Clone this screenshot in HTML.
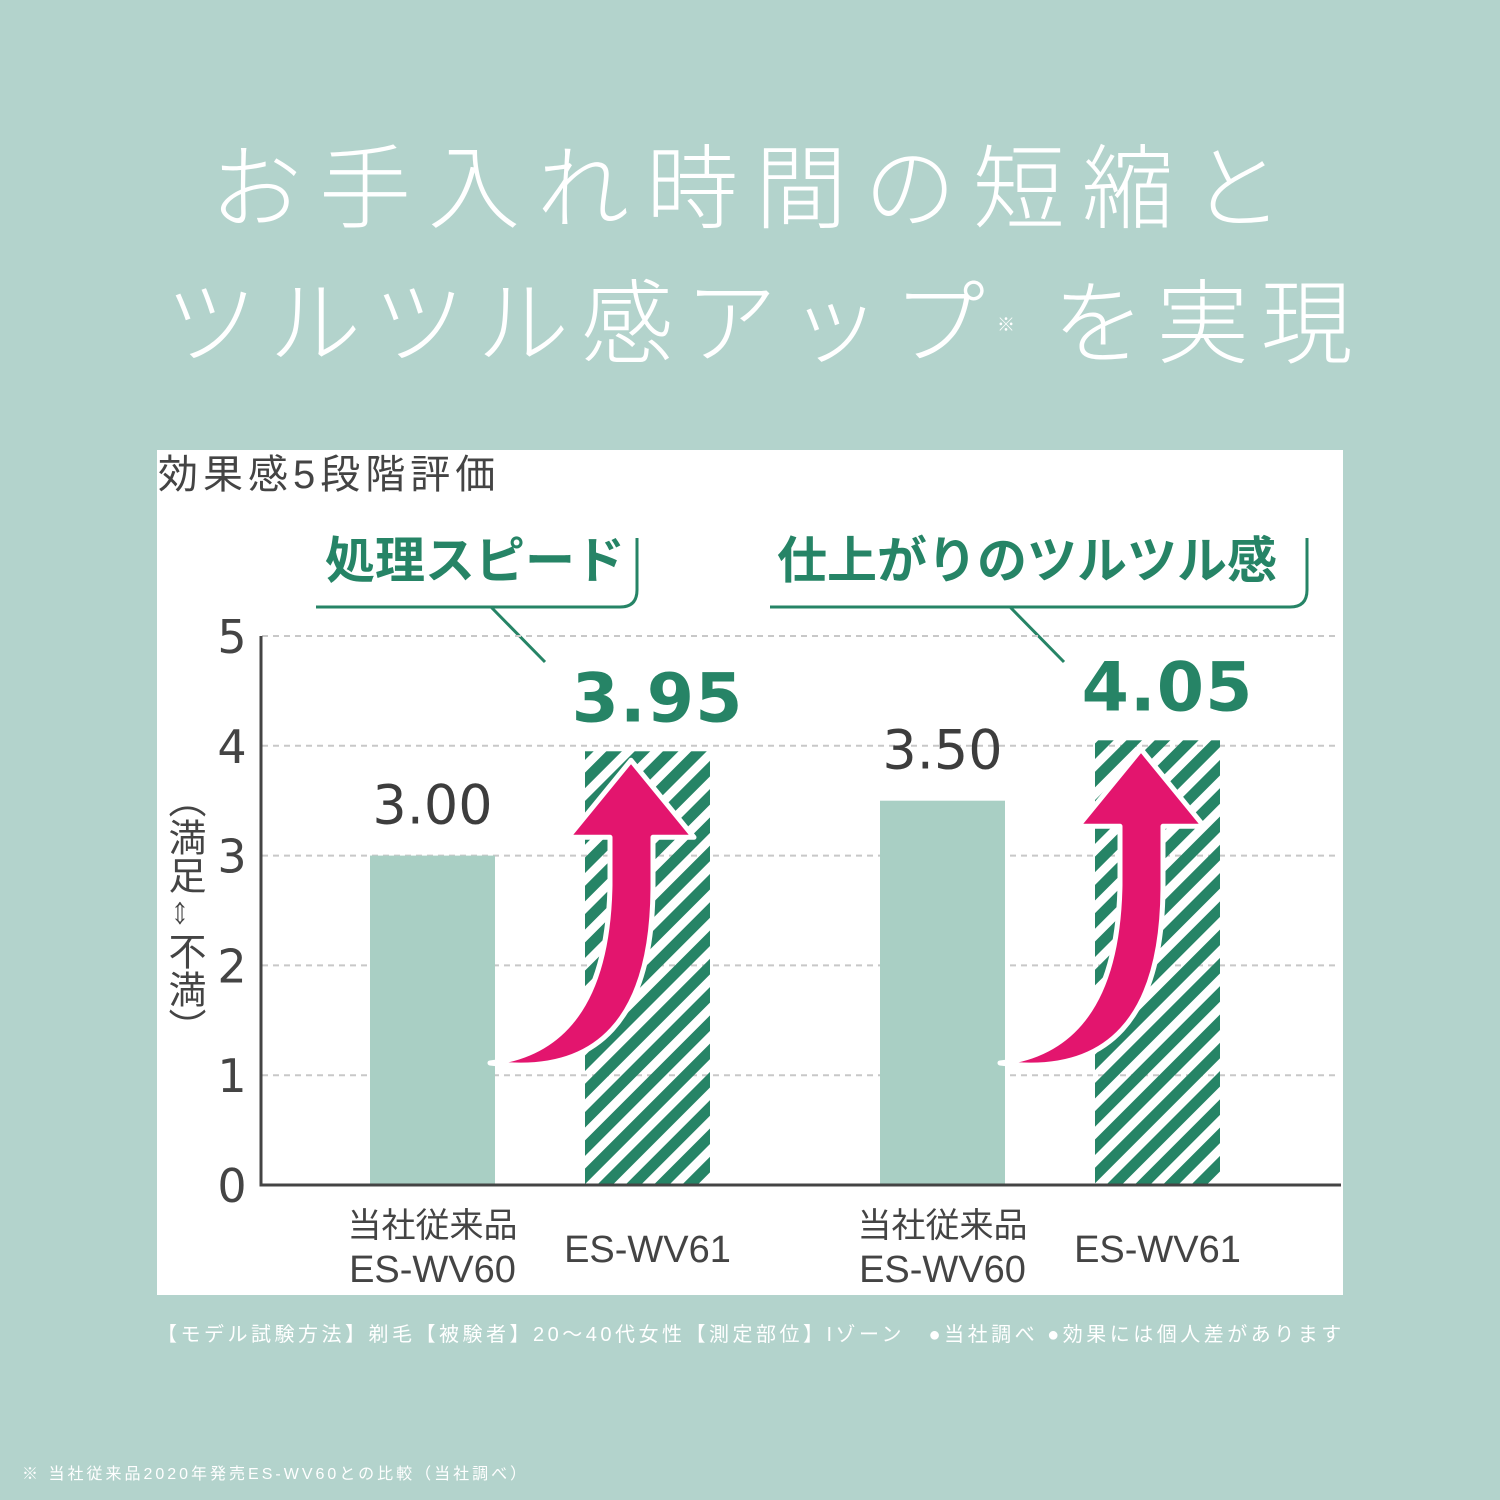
<!DOCTYPE html>
<html><head><meta charset="utf-8">
<style>
body{margin:0;width:1500px;height:1500px;background:#b3d3cc;position:relative;overflow:hidden;font-family:"Liberation Sans","Noto Sans CJK JP",sans-serif;}
.t{position:absolute;white-space:nowrap;}
</style></head>
<body>
<div class="t" style="left:210px;top:130px;font-size:92px;color:#fff;letter-spacing:17px;font-weight:300;line-height:120px;">お手入れ時間の短縮と</div>
<div class="t" style="left:165px;top:265px;font-size:92px;color:#fff;letter-spacing:12px;font-weight:300;line-height:120px;">ツルツル感アップ<span style="font-size:18px;vertical-align:top;letter-spacing:0;">※</span> を実現</div>
<div style="position:absolute;left:157px;top:450px;width:1186px;height:845px;background:#fff;"></div>
<div class="t" style="left:158px;top:450px;font-size:40px;color:#444;line-height:50px;letter-spacing:5px;">効果感5段階評価</div>
<svg id="chart" width="1500" height="1500" style="position:absolute;left:0;top:0;">
<defs>
<pattern id="stripe" patternUnits="userSpaceOnUse" width="20" height="20" patternTransform="rotate(45)">
<rect x="0" y="0" width="11" height="20" fill="#268466"/>
</pattern>
</defs>
<g id="callouts" fill="none" stroke="#268466" stroke-width="3">
<path d="M316 607 H620 Q637 607 637 590 V538"/>
<path d="M491 607 L545 662"/>
<path d="M770 607 H1290 Q1307 607 1307 590 V538"/>
<path d="M1010 607 L1064 662"/>
</g>
<text x="325" y="578" font-size="50" font-weight="bold" fill="#268466" font-family="Liberation Sans,Noto Sans CJK JP,sans-serif">処理スピード</text>
<text x="777" y="578" font-size="50" font-weight="bold" fill="#268466" font-family="Liberation Sans,Noto Sans CJK JP,sans-serif">仕上がりのツルツル感</text>
</svg>
<div class="t" style="left:163px;top:780px;width:40px;font-size:38px;color:#444;writing-mode:vertical-rl;line-height:40px;">（満足⇔不満）</div>
<div class="t" style="left:157px;top:1318px;font-size:20px;color:#fff;letter-spacing:3.5px;">【モデル試験方法】剃毛【被験者】20～40代女性【測定部位】Iゾーン　●当社調べ ●効果には個人差があります</div>
<div class="t" style="left:22px;top:1460px;font-size:16px;color:#fff;letter-spacing:3px;">※ 当社従来品2020年発売ES-WV60との比較（当社調べ）</div>
<script>
const categories=["当社従来品|ES-WV60","ES-WV61","当社従来品|ES-WV60","ES-WV61"];
const values=[3.00,3.95,3.50,4.05];
const valueLabels=["3.00","3.95","3.50","4.05"];
const yTicks=[0,1,2,3,4,5];
const isNew=[false,true,false,true];
const svg=document.getElementById('chart');
const NS='http://www.w3.org/2000/svg';
const y0=1185,yUnit=109.8;
const yScale=v=>y0-v*yUnit;
const barX=[370,585,880,1095];
const barW=125;
function mk(tag,attrs){const e=document.createElementNS(NS,tag);for(const k in attrs)e.setAttribute(k,attrs[k]);svg.appendChild(e);return e;}
yTicks.forEach(t=>{
 if(t>0){const g=mk('line',{x1:262,x2:1340,y1:yScale(t),y2:yScale(t),stroke:'#c8c8c8','stroke-width':2,'stroke-dasharray':'6 5'});
 
 }
 const tx=mk('text',{x:232,y:yScale(t)+17,'font-size':46,fill:'#444','text-anchor':'middle','font-family':'DejaVu Sans,sans-serif'});
 tx.textContent=t;
 
 
});
values.forEach((v,i)=>{
 const r=mk('rect',{x:barX[i],y:yScale(v),width:barW,height:y0-yScale(v),fill:isNew[i]?'url(#stripe)':'#a9cfc4'});
 
 
 const cx=barX[i]+barW/2;
 const lt=mk('text',{x:cx+(isNew[i]?10:0),y:yScale(v)-(isNew[i]?30:32),'font-size':isNew[i]?68:54,fill:isNew[i]?'#268466':'#3d3d3d','font-weight':isNew[i]?'bold':'normal','text-anchor':'middle','font-family':'DejaVu Sans,sans-serif','letter-spacing':isNew[i]?1:0});
 lt.textContent=valueLabels[i];
 
 
 if(isNew[i]){
  const bx=barX[i],top=yScale(v);
  const p=mk('path',{d:`M${bx-95} ${y0-122} Q${bx+22} ${y0-135} ${bx+25} ${y0-300} L${bx+25} ${top+86} L${bx-17} ${top+86} L${bx+46} ${top+9} L${bx+109} ${top+86} L${bx+68} ${top+86} L${bx+68} ${y0-300} Q${bx+68} ${y0-100} ${bx-95} ${y0-122} Z`,fill:'#e3156e',stroke:'#fff','stroke-width':5,'stroke-linejoin':'round'});
  
  
 }
 const lines=categories[i].split('|');
 lines.forEach((ln,j)=>{
  const ct=mk('text',{x:cx,y:lines.length>1?1237+j*45:1262,'font-size':lines.length>1&&j==0?34:38,fill:'#444','text-anchor':'middle','font-family':'Liberation Sans,Noto Sans CJK JP,sans-serif'});
  ct.textContent=ln;
  
  
 });
});
const ax=mk('path',{d:`M261 ${yScale(5)} V${y0} H1341`,fill:'none',stroke:'#444','stroke-width':3});


</script>
</body></html>
